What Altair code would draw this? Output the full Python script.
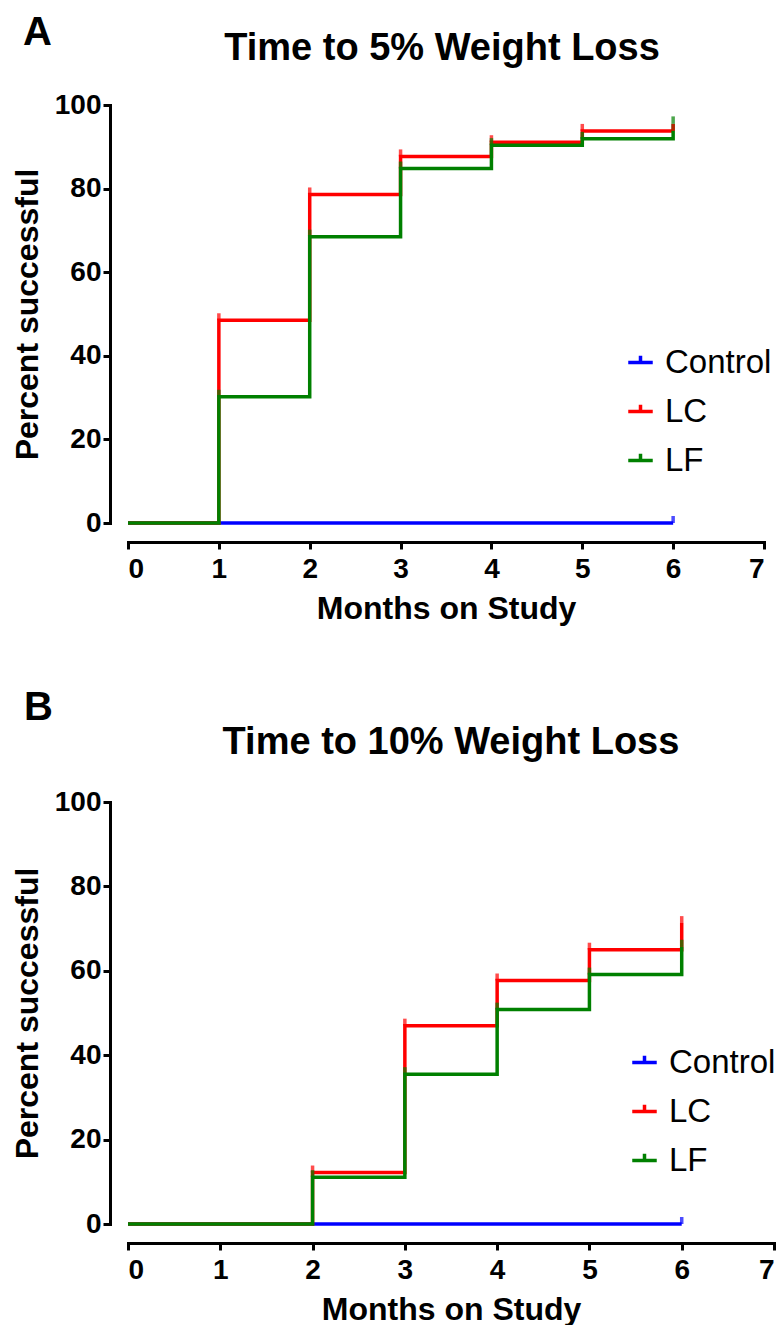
import altair as alt
import pandas as pd

# ---------------- data ----------------
groups = ["Control", "LC", "LF"]
colors = ["#0000ff", "#ff0000", "#008000"]
months = [0, 1, 2, 3, 4, 5, 6]
x_ticks = [0, 1, 2, 3, 4, 5, 6, 7]
y_ticks = [0, 20, 40, 60, 80, 100]

# Panel A: time to 5% weight loss (percent successful, level from each month on)
a_control = [0, 0, 0, 0, 0, 0, 0]
a_lc = [0, 48.5, 78.6, 87.7, 91.1, 93.8, 93.8]
a_lf = [0, 30.2, 68.5, 84.8, 90.4, 91.9, 95.6]
a_censor_control = [6]
a_censor_lc = [1, 2, 3, 4, 5, 6]
a_censor_lf = [1, 2, 3, 4, 5, 6]

# Panel B: time to 10% weight loss
b_control = [0, 0, 0, 0, 0, 0, 0]
b_lc = [0, 0, 12.2, 47.0, 57.7, 65.0, 71.3]
b_lf = [0, 0, 11.1, 35.5, 50.8, 59.1, 65.7]
b_censor_control = [6]
b_censor_lc = [2, 3, 4, 5, 6]
b_censor_lf = [2, 3, 4, 5, 6]

FONT = "Liberation Sans"


def build_frames(series, censors):
    rows, crow = [], []
    for g, vals in zip(groups, series):
        for m, v in zip(months, vals):
            rows.append({"month": m, "pct": v, "group": g})
    for g, vals, cm in zip(groups, series, censors):
        for m in cm:
            crow.append({"month": m, "pct": vals[months.index(m)], "group": g})
    return pd.DataFrame(rows), pd.DataFrame(crow)


def panel(series, censors, letter, title, width, height, legend_x, legend_y,
          letter_xy, title_xy):
    df, cdf = build_frames(series, censors)
    xenc = alt.X("month:Q", scale=alt.Scale(domain=[0, 7], nice=False, zero=False),
                 axis=alt.Axis(values=x_ticks, title="Months on Study", offset=19,
                               labelPadding=6, titlePadding=10, format="d"))
    yenc = alt.Y("pct:Q", scale=alt.Scale(domain=[0, 100], nice=False),
                 axis=alt.Axis(values=y_ticks, title="Percent successful", offset=18,
                               labelPadding=2, titlePadding=10, format="d"))
    cscale = alt.Scale(domain=groups, range=colors)
    legend = alt.Legend(title=None, orient="none", legendX=legend_x, legendY=legend_y,
                        symbolType="M-1,0H1M0,0V-0.55", symbolSize=600,
                        symbolStrokeWidth=3.5, labelFont=FONT, labelFontSize=33,
                        labelColor="black", labelOffset=8, rowPadding=15, padding=0)
    layers = []
    for i, g in enumerate(groups):
        layers.append(
            alt.Chart(df).transform_filter(alt.datum.group == g)
            .mark_line(interpolate="step-after", strokeWidth=3.5, strokeCap="butt")
            .encode(x=xenc, y=yenc,
                    color=alt.Color("group:N", scale=cscale,
                                    legend=legend if i == 0 else None))
        )
    ticks = (alt.Chart(cdf).mark_tick(orient="vertical", size=7, thickness=3.5, yOffset=-3.5)
             .encode(x=xenc, y=yenc, color=alt.Color("group:N", scale=cscale, legend=None)))
    letter_mark = (alt.Chart(pd.DataFrame({"t": [letter]}))
                   .mark_text(font=FONT, fontSize=40, fontWeight="bold", align="left",
                              baseline="top", color="black")
                   .encode(text="t:N", x=alt.value(letter_xy[0]), y=alt.value(letter_xy[1])))
    title_mark = (alt.Chart(pd.DataFrame({"t": [title]}))
                  .mark_text(font=FONT, fontSize=38, fontWeight="bold", align="center",
                             baseline="alphabetic", color="black")
                  .encode(text="t:N", x=alt.value(title_xy[0]), y=alt.value(title_xy[1])))
    return alt.layer(*layers, ticks, letter_mark, title_mark).properties(width=width, height=height)


top = panel([a_control, a_lc, a_lf],
            [a_censor_control, a_censor_lc, a_censor_lf],
            "A", "Time to 5% Weight Loss", 636, 418,
            496, 241, (-105, -92), (314, -45))
bottom = panel([b_control, b_lc, b_lf],
               [b_censor_control, b_censor_lc, b_censor_lf],
               "B", "Time to 10% Weight Loss", 646, 422,
               500, 244, (-104, -114), (323, -48))

chart = (alt.vconcat(top, bottom, spacing=64)
         .resolve_scale(color="independent")
         .resolve_legend(color="independent")
         .properties(padding={"left": 3, "top": 5, "right": 0, "bottom": 0})
         .configure_view(stroke=None)
         .configure_axis(grid=False, domainColor="black", domainWidth=3,
                         tickColor="black", tickWidth=3, tickSize=7,
                         labelFont=FONT, labelFontSize=28, labelFontWeight="bold",
                         labelColor="black", titleFont=FONT, titleFontSize=32,
                         titleFontWeight="bold", titleColor="black", domainCap="square"))

chart.save("out.html", embed_options={"renderer": "svg", "actions": False})
